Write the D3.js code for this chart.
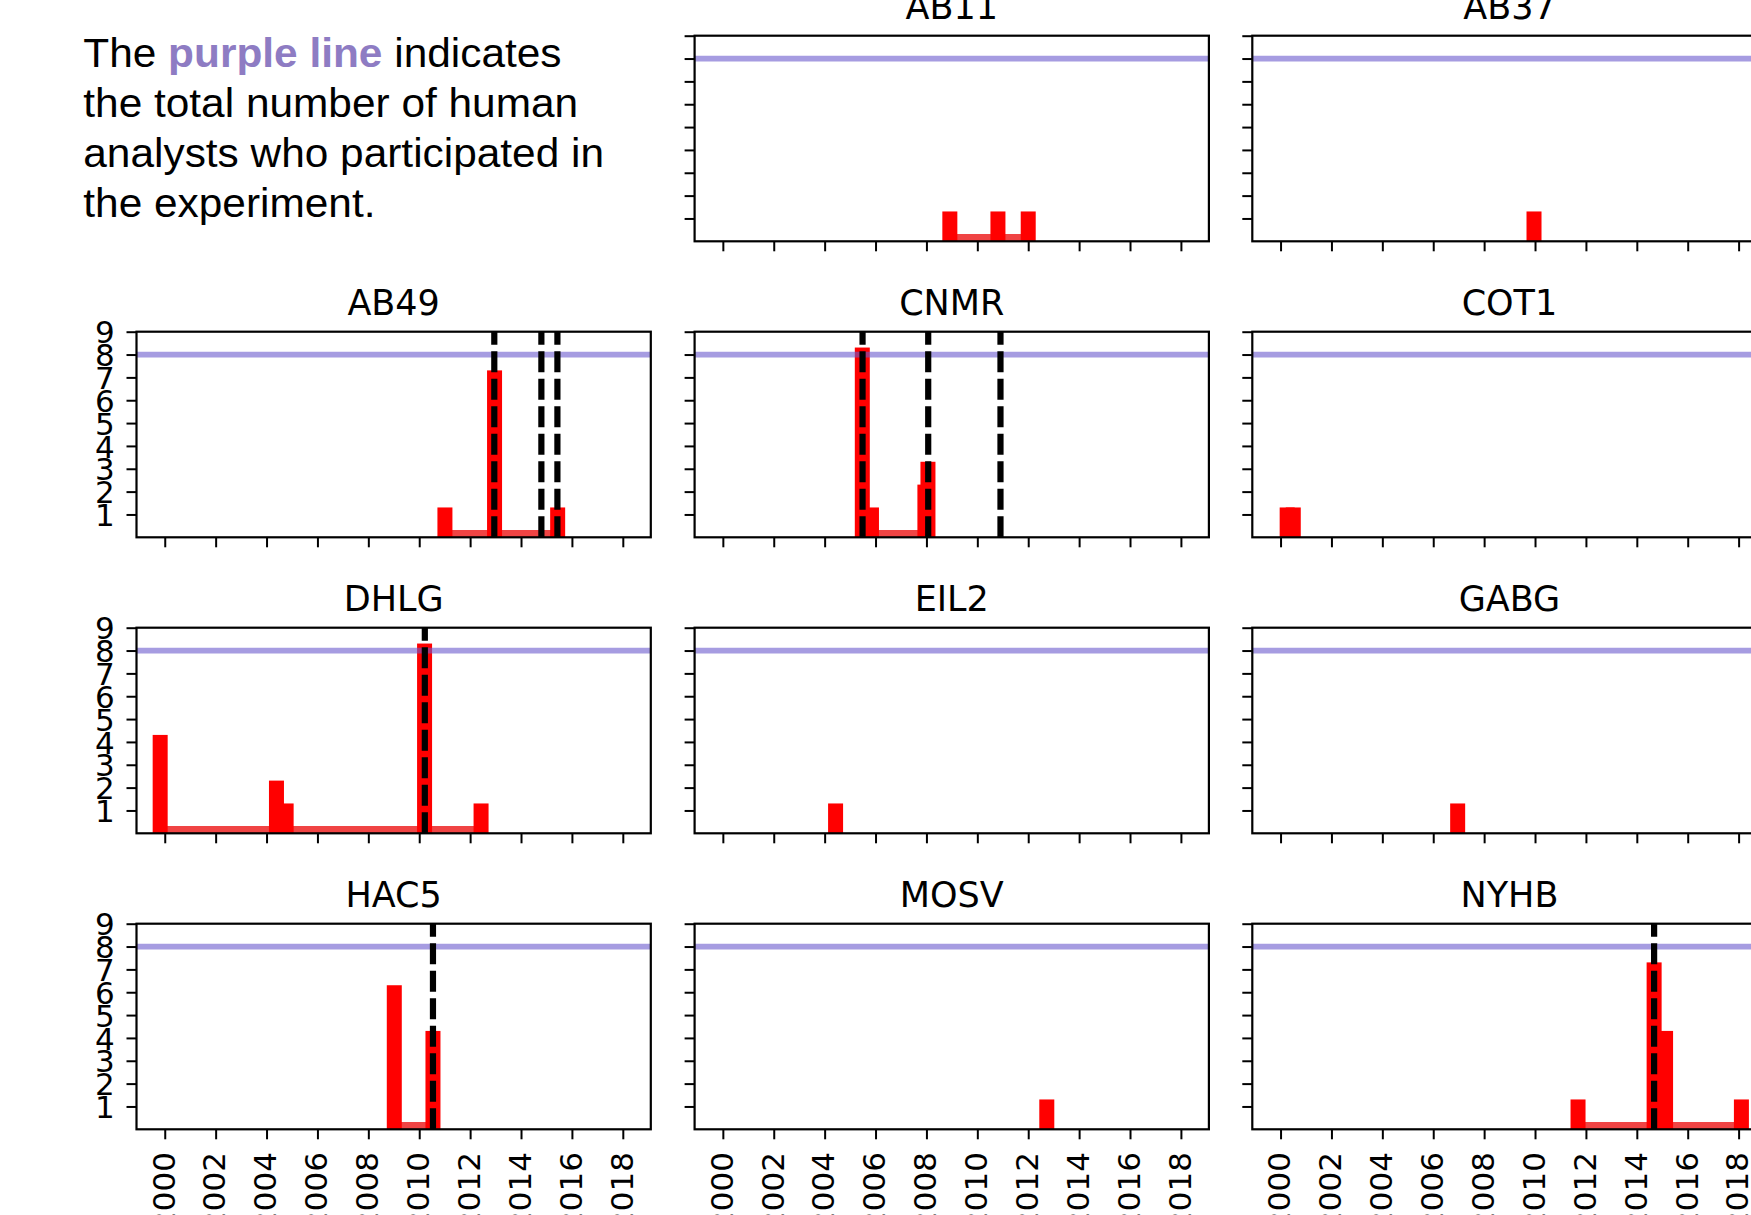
<!DOCTYPE html>
<html>
<head>
<meta charset="utf-8">
<script src="https://cdn.jsdelivr.net/npm/d3@7"></script>
<style>
  body { margin: 0; background: #fff; }
  svg { display: block; }
</style>
</head>
<body>
<div id="chart"></div>
<script>
// panel names, in grid order (slot 0 holds the note)
const panelNames = ['AB11', 'AB37', 'AB49', 'CNMR', 'COT1', 'DHLG', 'EIL2', 'GABG', 'HAC5', 'MOSV', 'NYHB'];

// event dates and counts per panel
const eventYears = [
  [2008.92, 2010.81, 2012.0],
  [2009.96],
  [2011.01, 2012.96, 2015.44],
  [2005.48, 2005.84, 2007.94, 2008.06],
  [2000.26, 2000.5],
  [1999.82, 2004.39, 2004.77, 2010.21, 2012.43],
  [2004.43],
  [2006.96],
  [2009.02, 2010.54],
  [2012.73],
  [2011.69, 2014.68, 2015.13, 2018.11]
];
const eventCounts = [
  [1, 1, 1],
  [1],
  [1, 7, 1],
  [8, 1, 2, 3],
  [1, 1],
  [4, 2, 1, 8, 1],
  [1],
  [1],
  [6, 4],
  [1],
  [1, 7, 4, 1]
];
// dashed black markers
const markerYears = [
  [], [], [2012.95, 2014.8, 2015.43], [2005.49, 2008.07, 2010.91], [],
  [2010.22], [], [], [2010.54], [], [2014.68]
];
const totalAnalysts = 8;
const yTickValues = [1, 2, 3, 4, 5, 6, 7, 8, 9];
const xTickValues = [2000, 2002, 2004, 2006, 2008, 2010, 2012, 2014, 2016, 2018];
const noteLines = [
  [['The ', false], ['purple line', true], [' indicates', false]],
  [['the total number of human', false]],
  [['analysts who participated in', false]],
  [['the experiment.', false]]
];

const W = 1751, H = 1215;
const pw = 514.3, ph = 205.6;
const colX = [136.5, 694.6, 1252.3];
const rowY = [35.7, 331.7, 627.7, 923.7];
const barW = 15, capExtra = 7, baseH = 7.3;

const svg = d3.select('#chart').append('svg')
    .attr('width', W).attr('height', H);
svg.append('rect').attr('width', W).attr('height', H).attr('fill', '#fff');

const x = d3.scaleLinear().domain([1998.89, 2019.10]).range([0, pw]);
const y = d3.scaleLinear().domain([0, 9]).range([ph, 0]);

// note text in the top-left slot
const note = svg.append('g')
    .attr('transform', 'translate(83.3,0) scale(1.06,1)')
    .style('font-family', '"Liberation Sans", Arial, sans-serif')
    .style('font-size', '40px');
noteLines.forEach((parts, i) => {
  const t = note.append('text').attr('x', 0).attr('y', 66.7 + i * 50);
  parts.forEach(p => {
    t.append('tspan')
      .text(p[0])
      .attr('fill', p[1] ? '#8e7cc3' : '#000')
      .attr('font-weight', p[1] ? 'bold' : 'normal');
  });
});

svg.append('defs').append('clipPath').attr('id', 'pclip')
  .append('rect').attr('width', pw).attr('height', ph);

panelNames.forEach((name, i) => {
  const slot = i + 1;
  const col = slot % 3, row = Math.floor(slot / 3);
  const g = svg.append('g')
      .attr('transform', `translate(${colX[col]},${rowY[row]})`);

  const years = eventYears[i], counts = eventCounts[i];
  const plot = g.append('g').attr('clip-path', 'url(#pclip)');

  // baseline between first and last event
  plot.append('rect')
      .attr('x', x(d3.min(years)))
      .attr('y', ph - baseH)
      .attr('width', x(d3.max(years)) - x(d3.min(years)))
      .attr('height', baseH)
      .attr('fill', '#f04444');

  // bars
  plot.selectAll('.bar')
    .data(years.map((yr, k) => ({ yr, c: counts[k] })))
    .enter()
    .append('rect')
    .attr('class', 'bar')
    .attr('x', d => x(d.yr) - barW / 2)
    .attr('y', d => y(d.c) - capExtra)
    .attr('width', barW)
    .attr('height', d => ph - y(d.c) + capExtra)
    .attr('fill', '#ff0000');

  // purple total line
  plot.append('line')
      .attr('x1', 0).attr('x2', pw)
      .attr('y1', y(totalAnalysts)).attr('y2', y(totalAnalysts))
      .attr('stroke', '#6a5acd')
      .attr('stroke-opacity', 0.6)
      .attr('stroke-width', 5.7);

  // dashed markers, drawn bottom to top
  plot.selectAll('.mark')
    .data(markerYears[i])
    .enter()
    .append('line')
    .attr('class', 'mark')
    .attr('x1', d => x(d)).attr('x2', d => x(d))
    .attr('y1', ph).attr('y2', 0)
    .attr('stroke', '#000')
    .attr('stroke-width', 6.2)
    .attr('stroke-dasharray', '21,6.5');

  // y axis
  const yAxis = g.append('g')
      .call(d3.axisLeft(y).tickValues(yTickValues).tickSize(10).tickPadding(11.7)
        .tickFormat(col === 0 ? d3.format('d') : ''));
  yAxis.select('.domain').remove();
  yAxis.selectAll('line').attr('stroke', '#000').attr('stroke-width', 2);
  yAxis.selectAll('text')
      .style('font-family', '"DejaVu Sans", sans-serif')
      .style('font-size', '31px')
      .attr('fill', '#000')
      .attr('dy', '0.36em');

  // x axis
  const xAxis = g.append('g')
      .attr('transform', `translate(0,${ph})`)
      .call(d3.axisBottom(x).tickValues(xTickValues).tickSize(10)
        .tickFormat(row === 3 ? d3.format('d') : ''));
  xAxis.select('.domain').remove();
  xAxis.selectAll('line').attr('stroke', '#000').attr('stroke-width', 2);
  xAxis.selectAll('text')
      .style('font-family', '"DejaVu Sans", sans-serif')
      .style('font-size', '31px')
      .attr('fill', '#000')
      .attr('transform', 'rotate(-90)')
      .attr('text-anchor', 'end')
      .attr('x', -22.7)
      .attr('y', 0)
      .attr('dy', '0.3em');

  // frame
  g.append('rect')
      .attr('width', pw).attr('height', ph)
      .attr('fill', 'none')
      .attr('stroke', '#000')
      .attr('stroke-width', 2.2);

  // title
  g.append('text')
      .attr('x', pw / 2)
      .attr('y', -16.7)
      .attr('text-anchor', 'middle')
      .style('font-family', '"DejaVu Sans", sans-serif')
      .style('font-size', '35px')
      .text(name);
});
</script>
</body>
</html>
